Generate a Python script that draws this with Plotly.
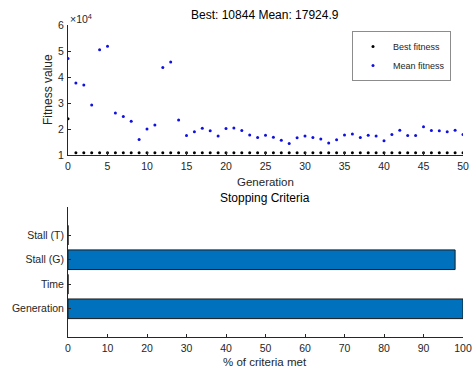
import plotly.graph_objects as go

generations = list(range(51))
best_fitness = [23900] + [10844] * 50
mean_fitness = [47100, 37700, 36900, 29200, 50500, 51800, 26200, 24800, 23000, 16000,
                20000, 21500, 43700, 45800, 23500, 17500, 18900, 20300, 19300, 17300,
                20200, 20400, 19400, 17700, 16700, 17600, 16800, 15700, 14400, 16600,
                17300, 16700, 16200, 14600, 15900, 17700, 18100, 16700, 17600, 17300,
                15500, 17900, 19500, 17500, 17500, 20900, 19400, 19300, 18900, 19500,
                17925]
criteria = ["Generation", "Time", "Stall (G)", "Stall (T)"]
criteria_pct = [100, 0, 98, 0]
fit_ticks = [10000, 20000, 30000, 40000, 50000, 60000]
fit_ticklabels = ["1", "2", "3", "4", "5", "6"]

W, H = 472, 367
FONT = "Liberation Sans, Arial, sans-serif"
AX = "#262626"

def px_x(v):
    return v / W

def px_y(v):
    return 1 - v / H

fig = go.Figure()
fig.add_trace(go.Scatter(x=generations, y=best_fitness, mode="markers", name="Best fitness",
                         marker=dict(color="black", size=3), xaxis="x", yaxis="y"))
fig.add_trace(go.Scatter(x=generations, y=mean_fitness, mode="markers", name="Mean fitness",
                         marker=dict(color="#1010e0", size=3), xaxis="x", yaxis="y"))
fig.add_trace(go.Bar(x=criteria_pct, y=list(range(1, len(criteria) + 1)), orientation="h",
                     width=0.8, marker=dict(color="#0072BD", line=dict(color="#1a1a1a", width=1)),
                     showlegend=False, xaxis="x2", yaxis="y2"))

xd = [px_x(68), px_x(463)]
axis_common = dict(showline=True, linecolor=AX, linewidth=1, ticks="inside", ticklen=3,
                   tickcolor=AX, showgrid=False, zeroline=False, mirror=False,
                   automargin=False, ticklabelstandoff=1,
                   tickfont=dict(family=FONT, size=10.5, color=AX))

fig.update_layout(
    width=W, height=H,
    margin=dict(l=0, r=0, t=0, b=0),
    paper_bgcolor="white", plot_bgcolor="white",
    font=dict(family=FONT, size=10, color=AX),
    xaxis=dict(domain=xd, range=[0, 50], tickvals=list(range(0, 51, 5)), anchor="y", **axis_common),
    yaxis=dict(domain=[px_y(155), px_y(25)], range=[10000, 60000], tickvals=fit_ticks,
               ticktext=fit_ticklabels, anchor="x", **axis_common),
    xaxis2=dict(domain=xd, range=[0, 100], tickvals=list(range(0, 101, 10)), anchor="y2", **axis_common),
    yaxis2=dict(domain=[px_y(337), px_y(207)], range=[-0.15, 5.15], tickvals=[1, 2, 3, 4],
                ticktext=criteria, anchor="x2", **axis_common),
    legend=dict(x=px_x(352), y=px_y(31), xanchor="left", yanchor="top",
                bordercolor="#8c8c8c", borderwidth=1, bgcolor="white",
                font=dict(family=FONT, size=9, color=AX), itemwidth=30,
                tracegroupgap=0, entrywidth=70),
    bargap=0.2,
    annotations=[
        dict(text="Best: 10844 Mean: 17924.9", x=px_x(265), y=px_y(15), xref="paper", yref="paper",
             xanchor="center", yanchor="middle",
             showarrow=False, font=dict(size=12, color="black", family=FONT)),
        dict(text="×10<sup>4</sup>", x=px_x(68), y=px_y(18), xref="paper", yref="paper",
             xanchor="left", yanchor="middle", showarrow=False,
             font=dict(size=10.5, color=AX, family=FONT)),
        dict(text="Fitness value", x=px_x(48), y=px_y(90), xref="paper", yref="paper",
             xanchor="center", yanchor="middle",
             textangle=-90, showarrow=False, font=dict(size=12, color=AX, family=FONT)),
        dict(text="Generation", x=px_x(265), y=px_y(182), xref="paper", yref="paper",
             xanchor="center", yanchor="middle",
             showarrow=False, font=dict(size=11.5, color=AX, family=FONT)),
        dict(text="Stopping Criteria", x=px_x(265), y=px_y(198), xref="paper", yref="paper",
             xanchor="center", yanchor="middle",
             showarrow=False, font=dict(size=12, color="black", family=FONT)),
        dict(text="% of criteria met", x=px_x(265), y=px_y(362), xref="paper", yref="paper",
             xanchor="center", yanchor="middle",
             showarrow=False, font=dict(size=11.5, color=AX, family=FONT)),
    ],
)

fig.write_html(
    "out.html",
    config={"displayModeBar": False},
    post_script="document.body.style.margin='0';document.documentElement.style.overflow='hidden';",
)
